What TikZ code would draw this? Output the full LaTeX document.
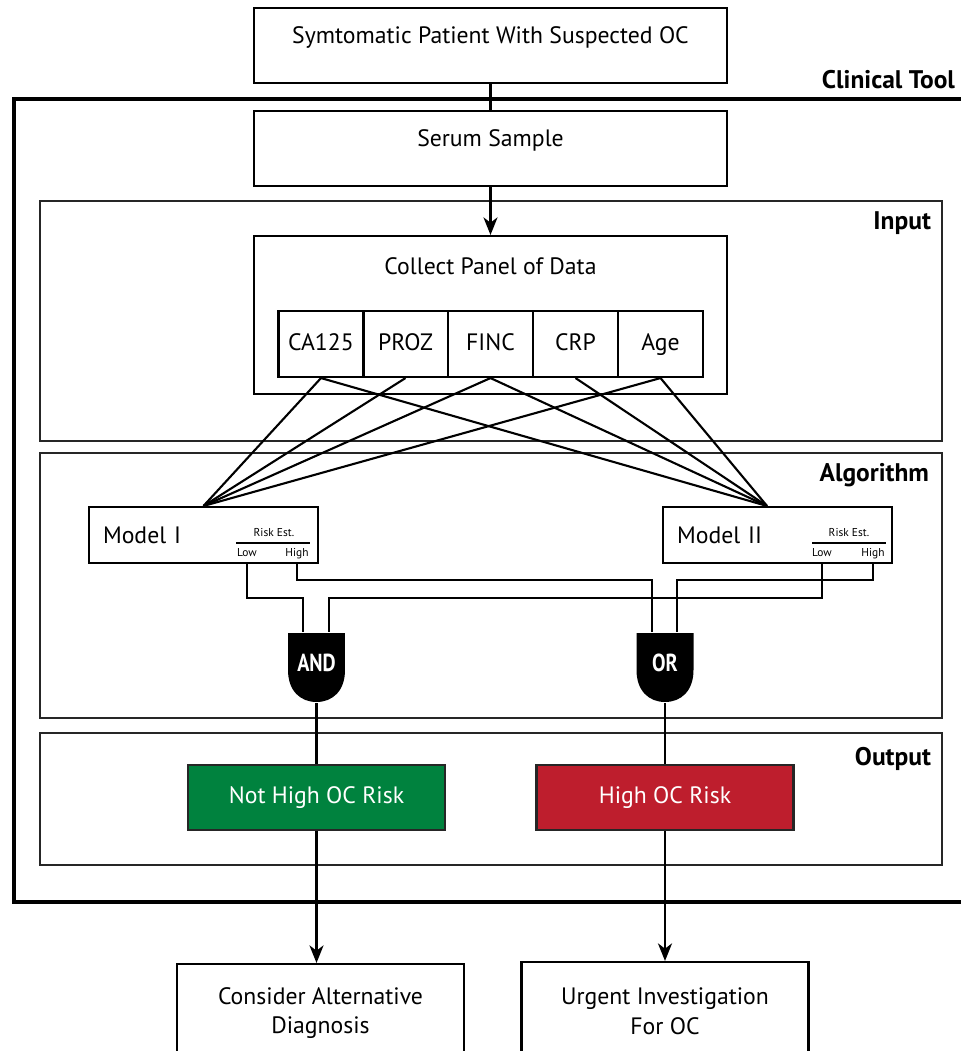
\documentclass[tikz,border=0pt]{standalone}
\usepackage{fontspec}
\setmainfont{PT Sans}
\newfontfamily\gatefamily{PT Sans}[FakeStretch=0.82]
\usetikzlibrary{arrows.meta}

\definecolor{riskgreen}{RGB}{0,130,62}
\definecolor{riskred}{RGB}{190,30,45}
\newcommand{\mainboxfont}{\fontsize{13.5pt}{17pt}\selectfont}
\newcommand{\framelabelfont}{\fontsize{14.5pt}{17pt}\selectfont\bfseries}
\newcommand{\riskfont}{\fontsize{6.5pt}{8pt}\selectfont}
\newcommand{\gatefont}{\gatefamily\fontsize{14pt}{16pt}\selectfont\bfseries}

\begin{document}
\begin{tikzpicture}[x=0.02cm, y=0.02cm, line width=1.2pt,
    box/.style={draw, minimum width=9.46cm, minimum height=1.5cm, text height=0.34cm, text depth=0.42cm, font=\mainboxfont},
    cell/.style={draw, minimum width=1.7cm, minimum height=1.32cm, inner sep=0pt, text height=0.34cm, text depth=0.1cm, font=\mainboxfont},
    model/.style={draw, minimum width=4.58cm, minimum height=1.12cm, text width=4.02cm, inner xsep=0.28cm, align=left, font=\mainboxfont},
    small/.style={inner sep=0pt, text height=0.17cm, text depth=0.05cm, font=\riskfont},
    gate/.style={minimum width=1.14cm, minimum height=1.38cm, inner sep=0pt, text=white, font=\gatefont, text height=0.32cm, text depth=0.18cm,
      path picture={\fill[black] (path picture bounding box.north west) -- ([yshift=-0.74cm]path picture bounding box.north west) .. controls +(0,-0.42cm) and +(-0.32cm,0) .. (path picture bounding box.south) .. controls +(0.32cm,0) and +(0,-0.42cm) .. ([yshift=-0.74cm]path picture bounding box.north east) -- (path picture bounding box.north east) -- cycle;}},
    riskbox/.style={draw=black!85, minimum width=5.14cm, minimum height=1.3cm, text=white, font=\mainboxfont},
    endbox/.style={draw, minimum width=5.74cm, minimum height=1.96cm, align=center, font=\mainboxfont},
    frame/.style={draw=black!85, line width=1.2pt},
    framelabel/.style={anchor=base east, inner sep=0pt, font=\framelabelfont},
    arr/.style={-{Stealth[length=10pt, width=8pt, inset=3pt]}}]
    \useasboundingbox (0,0) rectangle (960,-1051);
    % frames
    \draw[line width=2.6pt] (14,-99) rectangle (990,-902);
    \draw[frame] (40,-201) rectangle (942,-441);
    \draw[frame] (40,-453) rectangle (942,-718);
    \draw[frame] (40,-733) rectangle (942,-865);
    \node[framelabel] (tool) at (956,-89) {Clinical Tool};
    \node[framelabel] (input) at (932,-229) {Input};
    \node[framelabel] (algo) at (930,-481) {Algorithm};
    \node[framelabel] (output) at (932,-765) {Output};
    % boxes
    \node[box] (patient) at (490.5,-45.5) {Symtomatic Patient With Suspected OC};
    \node[box] (serum) at (490.5,-148.5) {Serum Sample};
    \node[box, minimum height=3.16cm, text depth=1.96cm] (panel) at (490.5,-315) {Collect Panel of Data};
    \node[cell] (ca) at (321,-344) {CA125};
    \node[cell] (proz) at (405.5,-344) {PROZ};
    \node[cell] (finc) at (490.5,-344) {FINC};
    \node[cell] (crp) at (575.5,-344) {CRP};
    \node[cell] (age) at (660.5,-344) {Age};
    \node[model] (m1) at (203.5,-535) {Model I};
    \node[model] (m2) at (777.5,-535) {Model II};
    \node[small] (r1) at (274,-533) {Risk Est.};
    \node[small] (lo1) at (247,-553) {Low};
    \node[small] (hi1) at (297,-553) {High};
    \node[small] (r2) at (849,-533) {Risk Est.};
    \node[small] (lo2) at (822,-553) {Low};
    \node[small] (hi2) at (873,-553) {High};
    \draw (236,-543) -- (310,-543);
    \draw (812,-543) -- (886,-543);
    \node[gate] (and) at (316.5,-667.5) {AND};
    \node[gate] (or) at (665,-667.5) {OR};
    \node[riskbox, fill=riskgreen] (nothigh) at (316.5,-797.5) {Not High OC Risk};
    \node[riskbox, fill=riskred] (high) at (665,-797.5) {High OC Risk};
    \node[endbox] (consider) at (320.5,-1013) {Consider Alternative\\Diagnosis};
    \node[endbox] (urgent) at (665,-1011) {Urgent Investigation\\For OC};
    \coordinate (in2) at ([xshift=-0.21cm]m2.north);
    % connectors
    \draw (patient) -- (serum);
    \draw[arr] (serum) -- (panel);
    \draw (ca.south) -- (m1.north);
    \draw (proz.south) -- (m1.north);
    \draw (finc.south) -- (m1.north);
    \draw (age.south) -- (m1.north);
    \draw (ca.south) -- (in2);
    \draw (finc.south) -- (in2);
    \draw (crp.south) -- (in2);
    \draw (age.south) -- (in2);
    \draw (lo1 |- m1.south) -- ++(0,-34) -| ([xshift=-0.27cm]and.north);
    \draw (lo2 |- m2.south) -- ++(0,-34) -| ([xshift=0.25cm]and.north);
    \draw (hi1 |- m1.south) -- ++(0,-16) -| ([xshift=-0.26cm]or.north);
    \draw (hi2 |- m2.south) -- ++(0,-16) -| ([xshift=0.24cm]or.north);
    \draw (and.south) -- (nothigh.north);
    \draw (or.south) -- (high.north);
    \draw[arr] (nothigh.south) -- (nothigh.south |- consider.north);
    \draw[arr] (high.south) -- (urgent.north);
\end{tikzpicture}
\end{document}
